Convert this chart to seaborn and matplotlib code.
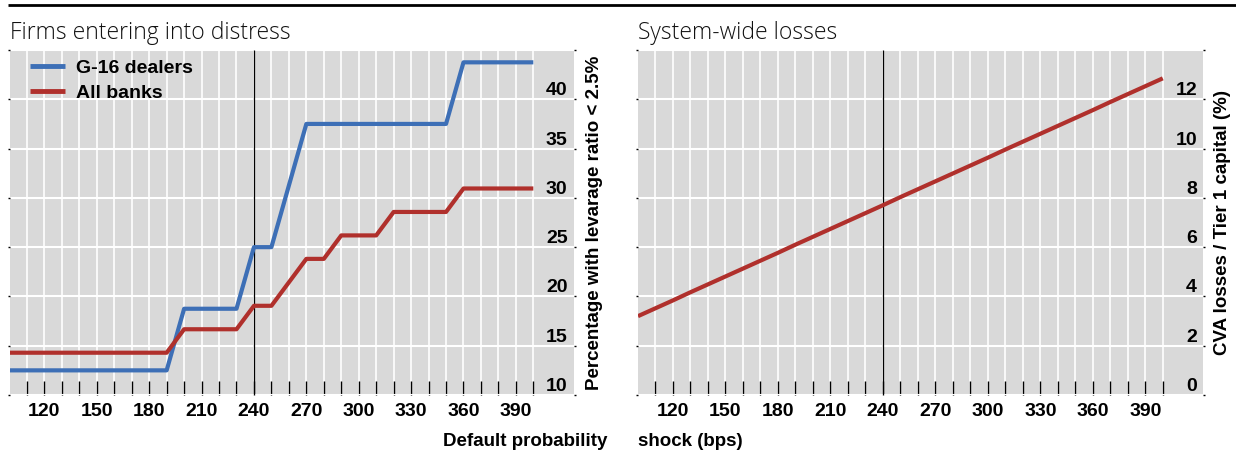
import matplotlib
matplotlib.use("Agg")
import matplotlib.pyplot as plt
import seaborn as sns
import pandas as pd
from matplotlib.lines import Line2D

# ---------------- data ----------------
shock_bps = [100, 110, 120, 130, 140, 150, 160, 170, 180, 190,
             200, 210, 220, 230, 240, 250, 260, 270, 280, 290,
             300, 310, 320, 330, 340, 350, 360, 370, 380, 390, 400]

g16_dealers = [12.5, 12.5, 12.5, 12.5, 12.5, 12.5, 12.5, 12.5, 12.5, 12.5,
               18.75, 18.75, 18.75, 18.75, 25.0, 25.0, 31.25, 37.5, 37.5, 37.5,
               37.5, 37.5, 37.5, 37.5, 37.5, 37.5, 43.75, 43.75, 43.75, 43.75, 43.75]

all_banks = [14.29, 14.29, 14.29, 14.29, 14.29, 14.29, 14.29, 14.29, 14.29, 14.29,
             16.67, 16.67, 16.67, 16.67, 19.05, 19.05, 21.43, 23.81, 23.81, 26.19,
             26.19, 26.19, 28.57, 28.57, 28.57, 28.57, 30.95, 30.95, 30.95, 30.95, 30.95]

cva_losses = [3.20, 3.52, 3.84, 4.17, 4.49, 4.81, 5.13, 5.45, 5.77, 6.10,
              6.42, 6.74, 7.06, 7.38, 7.70, 8.03, 8.35, 8.67, 8.99, 9.31,
              9.63, 9.96, 10.28, 10.60, 10.92, 11.24, 11.56, 11.89, 12.21, 12.53, 12.85]

series_names = ["G-16 dealers", "All banks"]
x_ticks = [110, 120, 130, 140, 150, 160, 170, 180, 190, 200, 210, 220, 230, 240, 250,
           260, 270, 280, 290, 300, 310, 320, 330, 340, 350, 360, 370, 380, 390, 400]
x_tick_labels = ["120", "150", "180", "210", "240", "270", "300", "330", "360", "390"]
left_y_ticks = [10, 15, 20, 25, 30, 35, 40, 45]
left_y_labels = ["10", "15", "20", "25", "30", "35", "40", ""]
right_y_ticks = [0, 2, 4, 6, 8, 10, 12, 14]
right_y_labels = ["0", "2", "4", "6", "8", "10", "12", ""]

BLUE = "#3d6fb6"
RED = "#b0302c"
BG = "#d9d9d9"

sns.set_theme(style="white")
plt.rcParams["font.family"] = ["Liberation Sans", "DejaVu Sans"]
plt.rcParams["lines.solid_capstyle"] = "butt"
plt.rcParams["text.color"] = "black"
plt.rcParams["axes.labelcolor"] = "black"
plt.rcParams["xtick.color"] = "black"
plt.rcParams["ytick.color"] = "black"

W, H = 1236, 451
fig = plt.figure(figsize=(W / 100, H / 100), dpi=100)
ax1 = fig.add_axes([9.5 / W, 56 / H, 564 / W, 345 / H])
ax2 = fig.add_axes([638 / W, 56 / H, 565 / W, 345 / H])

FS = 14
FS_LAB = 13.5

df_left = pd.DataFrame({
    "shock": shock_bps * 2,
    "value": g16_dealers + all_banks,
    "series": [series_names[0]] * len(shock_bps) + [series_names[1]] * len(shock_bps),
})
sns.lineplot(data=df_left, x="shock", y="value", hue="series", hue_order=series_names,
             palette={series_names[0]: BLUE, series_names[1]: RED},
             linewidth=3, ax=ax1, zorder=3)

df_right = pd.DataFrame({"shock": shock_bps, "cva": cva_losses})
sns.lineplot(data=df_right, x="shock", y="cva", color=RED, linewidth=3, ax=ax2, zorder=3)


def style_axis(ax, yticks, ylabels, ylim, ylabel, ylabel_x):
    ax.set_facecolor(BG)
    for s in ax.spines.values():
        s.set_visible(False)
    ax.set_xlim(100, 423)
    ax.set_ylim(*ylim)
    ax.set_xticks(x_ticks)
    ax.set_xticklabels([str(t) if str(t) in x_tick_labels else "" for t in x_ticks],
                       fontsize=FS, fontweight="bold")
    ax.set_yticks(yticks)
    ax.set_yticklabels(ylabels, fontsize=FS, fontweight="bold")
    ax.grid(True, axis="x", color="white", linewidth=1.2, zorder=1)
    ax.grid(True, axis="y", color="white", linewidth=1.5, zorder=1)
    ax.set_axisbelow(True)
    ax.tick_params(axis="x", direction="in", length=10, width=1, color="black",
                   pad=6, bottom=True, top=False, labelcolor="black")
    ax.tick_params(axis="y", direction="out", length=1.5, width=1, color="black",
                   left=True, right=True, labelleft=False, labelright=True,
                   pad=-5.8, labelcolor="black")
    for tk in ax.yaxis.get_major_ticks():
        tk.label2.set_horizontalalignment("right")
        tk.label2.set_verticalalignment("bottom")
    ax.axvline(240, color="black", linewidth=0.9, zorder=2)
    ax.set_ylabel(ylabel, fontsize=FS_LAB, fontweight="bold", color="black")
    ax.yaxis.set_label_position("right")
    ax.yaxis.label.set_verticalalignment("center")
    ax.yaxis.set_label_coords(ylabel_x, 0.5)


style_axis(ax1, left_y_ticks, left_y_labels, (10, 45),
           "Percentage with levarage ratio < 2.5%", 1.038)
style_axis(ax2, right_y_ticks, right_y_labels, (0, 14),
           "CVA losses / Tier 1 capital (%)", 1.034)

ax1.set_xlabel("Default probability", fontsize=FS_LAB, fontweight="bold", color="black")
ax1.xaxis.label.set_horizontalalignment("right")
ax1.xaxis.label.set_verticalalignment("center")
ax1.xaxis.set_label_coords((607 - 9.5) / 564, (395 - 441) / 345)

ax2.set_xlabel("shock (bps)", fontsize=FS_LAB, fontweight="bold", color="black")
ax2.xaxis.label.set_horizontalalignment("left")
ax2.xaxis.label.set_verticalalignment("center")
ax2.xaxis.set_label_coords(0.0, (395 - 441) / 345)

ax1.set_title("Firms entering into distress", loc="left", fontsize=16.5,
              family=["Open Sans", "DejaVu Sans"], fontweight="light", pad=8, color="#111111")
ax2.set_title("System-wide losses", loc="left", fontsize=16.5,
              family=["Open Sans", "DejaVu Sans"], fontweight="light", pad=8, color="#111111")

handles, labels = ax1.get_legend_handles_labels()
leg = ax1.legend(handles, labels, loc="upper left", bbox_to_anchor=(0.036, 0.972),
                 frameon=False, borderpad=0, borderaxespad=0, handlelength=1.8,
                 handletextpad=0.6, labelspacing=0.38,
                 prop={"size": FS, "weight": "bold"})
for ln in leg.get_lines():
    ln.set_linewidth(3.5)
for t in leg.get_texts():
    t.set_color("black")

fig.add_artist(Line2D([8 / W, 1.0], [1 - 5 / H, 1 - 5 / H], transform=fig.transFigure,
                      color="black", linewidth=2))

fig.savefig("out.png", dpi=100)
